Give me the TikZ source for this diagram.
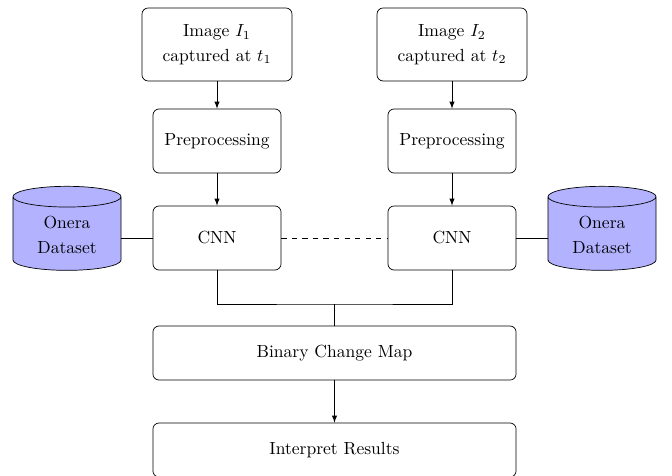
\documentclass[tikz,border=0pt]{standalone}
\usetikzlibrary{shapes.geometric}

\tikzset{
  procbox/.style={draw,rounded corners=3.5pt,align=center,inner sep=2pt},
  dbcyl/.style={draw,shape=cylinder,shape border rotate=90,aspect=0.33,
    fill=blue!30,align=center,inner sep=1pt,
    minimum width=61.6pt,minimum height=47.9pt},
  flow/.style={-latex}
}

\begin{document}
\begin{tikzpicture}[x=0.57pt,y=-0.57pt]
     \useasboundingbox (0,0) rectangle (672,475);
     % inputs
     \node[procbox,minimum width=85.5pt,minimum height=41.6pt] (img1) at (217,44.5) {Image $I_1$\\[2pt] captured at $t_1$};
     \node[procbox,minimum width=85.5pt,minimum height=41.6pt] (img2) at (452,44.5) {Image $I_2$\\[2pt] captured at $t_2$};
     \node[procbox,minimum width=73pt,minimum height=36.5pt] (pre1) at (217,141) {Preprocessing};
     \node[procbox,minimum width=73pt,minimum height=36.5pt] (pre2) at (452,141) {Preprocessing};
     \node[procbox,minimum width=73pt,minimum height=36.5pt] (cnn1) at (217,238) {CNN};
     \node[procbox,minimum width=73pt,minimum height=36.5pt] (cnn2) at (452,238) {CNN};
     \node[dbcyl] (db1) at (67,235) {Onera\\[2pt] Dataset};
     \node[dbcyl] (db2) at (602,235) {Onera\\[2pt] Dataset};
     % outputs
     \node[procbox,minimum width=207pt,minimum height=30.8pt] (bcm) at (334.5,353) {Binary Change Map};
     \node[procbox,minimum width=207pt,minimum height=30.8pt] (res) at (334.5,450) {Interpret Results};
     \coordinate (join) at (334.5,304);
     % connectors
     \draw[flow] (img1) -- (pre1);
     \draw[flow] (img2) -- (pre2);
     \draw[flow] (pre1) -- (cnn1);
     \draw[flow] (pre2) -- (cnn2);
     \draw[dashed] (cnn1) -- (cnn2);
     \draw (cnn1.west) -- (cnn1.west -| db1.east);
     \draw (cnn2.east) -- (cnn2.east -| db2.west);
     \draw (cnn1.south) |- (join) -| (cnn2.south);
     \draw (join) -- (bcm.north);
     \draw[flow] (bcm) -- (res);
    \end{tikzpicture}
\end{document}
